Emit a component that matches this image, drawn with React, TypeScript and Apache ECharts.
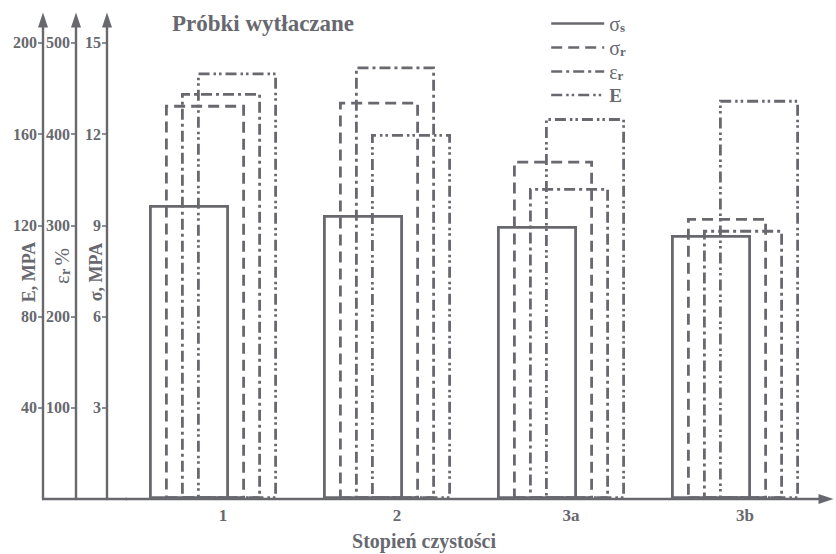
import React, { useEffect, useRef } from 'react';
import * as echarts from 'echarts';

// ---- data ----
const categories = ['1', '2', '3a', '3b'];
const seriesNames = ['σs', 'σr', 'εr', 'E'];
const sigmaS = [9.67, 9.34, 8.98, 8.68]; // σ, MPA
const sigmaR = [12.96, 13.06, 11.12, 9.24]; // σ, MPA
const epsR = [445, 474, 341, 295]; // εr, %
const eMod = [187, 160, 167, 175]; // E, MPA
const sigmaTicks = [3, 6, 9, 12, 15];
const epsTicks = [100, 200, 300, 400, 500];
const eTicks = [40, 80, 120, 160, 200];

const INK = '#68686f';
const FONT = '"Liberation Serif", "DejaVu Serif", serif';

const DASH_R = [11, 6];
const DASH_EPS = [11, 4, 3, 4];
const DASH_E = [11, 4, 2.5, 3, 2.5, 4];

function mkBar(name: string, data: number[], yAxisIndex: number, dash: any) {
  return {
    name,
    type: 'bar',
    data,
    yAxisIndex,
    barWidth: 80,
    barGap: '-80%',
    silent: true,
    itemStyle: {
      color: 'transparent',
      borderColor: INK,
      borderWidth: 2.8,
      borderType: dash,
    },
  };
}

function mkY(max: number, interval: number, offset: number, ticks: number[]) {
  return {
    type: 'value',
    min: 0,
    max,
    interval,
    position: 'left',
    offset,
    axisLine: {
      show: true,
      onZero: false,
      symbol: ['none', 'triangle'],
      symbolSize: [10, 15],
      lineStyle: { color: INK, width: 2.4 },
    },
    axisTick: {
      show: true,
      length: 5,
      customValues: ticks,
      lineStyle: { color: INK, width: 1.5 },
    },
    axisLabel: {
      customValues: ticks,
      margin: 6,
      color: INK,
      fontFamily: FONT,
      fontWeight: 'bold',
      fontSize: 16,
    },
    splitLine: { show: false },
  };
}

export default function App() {
  const ref = useRef<HTMLDivElement>(null);
  useEffect(() => {
    if (!ref.current) return;
    const chart = echarts.init(ref.current, undefined, { renderer: 'svg' });
    const legendDash: any[] = ['solid', DASH_R, DASH_EPS, DASH_E];
    chart.setOption({
      animation: false,
      backgroundColor: '#ffffff',
      title: {
        text: 'Próbki wytłaczane',
        left: 172,
        top: 12,
        padding: 0,
        textStyle: { fontFamily: FONT, fontWeight: 'bold', fontSize: 23, color: INK },
      },
      legend: {
        orient: 'vertical',
        left: 545,
        top: 9,
        itemWidth: 53,
        itemHeight: 1,
        itemGap: 4,
        icon: 'path://M0,0 L53,0 M53,1 L53,1',
        selectedMode: false,
        itemStyle: { borderWidth: 2.4, borderColor: INK, color: 'transparent' },
        data: seriesNames.map((n, i) => ({
          name: n,
          itemStyle: { borderType: legendDash[i], borderWidth: 2.4, borderColor: INK, color: 'transparent' },
        })),
        formatter: (name: string) =>
          name === 'E' ? '{e|E}' : `{g|${name[0]}}{s|${name.slice(1)}}`,
        textStyle: {
          color: INK,
          fontFamily: FONT,
          rich: {
            g: { fontSize: 20, fontFamily: FONT, color: INK, lineHeight: 19 },
            s: { fontSize: 13, fontWeight: 'bold', fontFamily: FONT, color: INK, lineHeight: 11, verticalAlign: 'bottom' },
            e: { fontSize: 19, fontWeight: 'bold', fontFamily: FONT, color: INK, lineHeight: 19 },
          },
        },
      },
      grid: { left: 126, right: 14, top: 20, bottom: 55, containLabel: false, outerBoundsMode: 'none' },
      xAxis: {
        type: 'category',
        data: categories,
        axisLine: {
          symbol: ['none', 'triangle'],
          symbolSize: [10, 15],
          symbolOffset: [0, 4],
          lineStyle: { color: INK, width: 2.4 },
        },
        axisTick: { show: false },
        axisLabel: {
          color: INK,
          fontFamily: FONT,
          fontWeight: 'bold',
          fontSize: 17,
          margin: 8,
          padding: [0, 0, 0, 20],
        },
        name: 'Stopień czystości',
        nameLocation: 'middle',
        nameGap: 32,
        nameTextStyle: {
          color: INK,
          fontFamily: FONT,
          fontWeight: 'bold',
          fontSize: 20,
          padding: [0, 100, 0, 0],
        },
      },
      yAxis: [
        mkY(15.75, 3, 19, sigmaTicks),
        mkY(525, 100, 50, epsTicks),
        mkY(210, 40, 83, eTicks),
      ],
      series: [
        mkBar(seriesNames[0], sigmaS, 0, 'solid'),
        mkBar(seriesNames[1], sigmaR, 0, DASH_R),
        mkBar(seriesNames[2], epsR, 1, DASH_EPS),
        mkBar(seriesNames[3], eMod, 2, DASH_E),
      ],
      graphic: [
        {
          type: 'line',
          silent: true,
          shape: { x1: 42, y1: 499, x2: 127, y2: 499 },
          style: { stroke: INK, lineWidth: 2.4 },
        },
        {
          type: 'text',
          x: 29,
          y: 272,
          rotation: Math.PI / 2,
          style: {
            text: 'E, MPA',
            font: `bold 18px ${FONT}`,
            fill: INK,
            align: 'center',
            verticalAlign: 'middle',
          },
        },
        {
          type: 'text',
          x: 62,
          y: 266,
          rotation: Math.PI / 2,
          style: {
            text: '{e|ε}{s|r} {e|%}',
            fill: INK,
            align: 'center',
            verticalAlign: 'middle',
            rich: {
              e: { fontSize: 21, fontFamily: FONT, fill: INK, lineHeight: 21 },
              s: { fontSize: 14, fontWeight: 'bold', fontFamily: FONT, fill: INK, lineHeight: 12, verticalAlign: 'bottom' },
            },
          },
        },
        {
          type: 'text',
          x: 96,
          y: 272,
          rotation: Math.PI / 2,
          style: {
            text: 'σ, MPA',
            font: `bold 18px ${FONT}`,
            fill: INK,
            align: 'center',
            verticalAlign: 'middle',
          },
        },
      ],
    });
    return () => chart.dispose();
  }, []);
  return (
    <div
      ref={ref}
      style={{ position: 'fixed', left: 0, top: 0, width: 836, height: 554, background: '#fff' }}
    />
  );
}
